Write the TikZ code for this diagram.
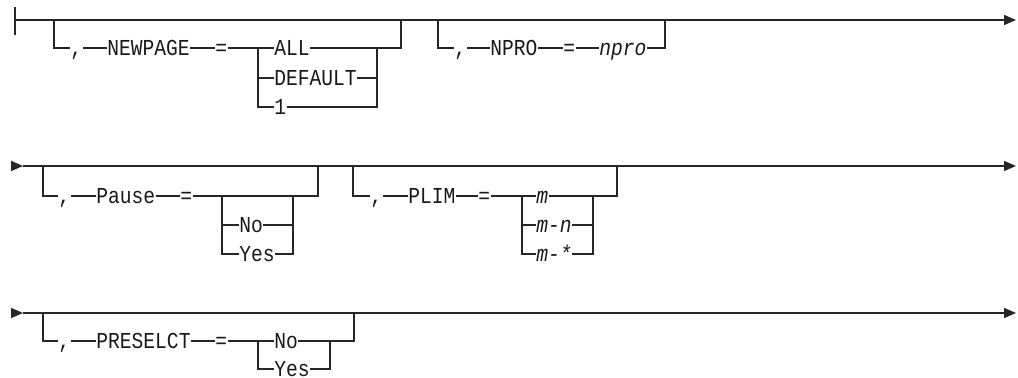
\documentclass[tikz,border=0pt]{standalone}
\usepackage{fontspec}
\newfontfamily\railfont{Liberation Mono}[FakeStretch=0.86]
\usetikzlibrary{arrows.meta}

\begin{document}
\begin{tikzpicture}[x=0.5pt, y=-0.5pt,
  rail/.style={line width=0.7pt, draw=black!85},
  flow/.style={rail, -{Triangle[length=6pt, width=5pt]}},
  token/.style={anchor=west, inner sep=0pt, text height=7.5pt, text depth=0pt,
    font=\railfont\fontsize{11.4}{13}\selectfont, text=black!90},
  var/.style={token, font=\railfont\itshape\fontsize{11.4}{13}\selectfont}]
\useasboundingbox (0,0) rectangle (1018,378);
\coordinate (r1top) at (15,7);
\coordinate (r1bot) at (15,35);
\coordinate (r1a) at (15,20);
\coordinate (r1b) at (1016,20);
\coordinate (g1l) at (54,20);
\coordinate (g1r) at (401,20);
\coordinate (c1l) at (258,48);
\coordinate (c1r) at (377,48);
\coordinate (g2l) at (438,20);
\coordinate (g2r) at (665,20);
\node[token] (nwcomma) at (70,48) {,};
\node[token] (newpage) at (107,48) {NEWPAGE};
\node[token] (nweq) at (215,48) {=};
\node[token] (nwall) at (274,48) {ALL};
\node[token] (nwdef) at (274,78) {DEFAULT};
\node[token] (nwone) at (274,107) {1};
\node[token] (npcomma) at (454,48) {,};
\node[token] (nprokey) at (490,48) {NPRO};
\node[token] (npeq) at (563,48) {=};
\node[var] (npro) at (599,48) {npro};
\draw[rail] (r1top) -- (r1bot);
\draw[flow] (r1a) -- (r1b);
\draw[rail] (g1l) |- (nwcomma.west);
\draw[rail] (nwcomma.east) -- (newpage.west);
\draw[rail] (newpage.east) -- (nweq.west);
\draw[rail] (nweq.east) -- (nwall.west);
\draw[rail] (c1l) |- (nwdef.west);
\draw[rail] (c1l) |- (nwone.west);
\draw[rail] (nwall.east) -| (g1r);
\draw[rail] (nwdef.east) -| (c1r);
\draw[rail] (nwone.east) -| (c1r);
\draw[rail] (g2l) |- (npcomma.west);
\draw[rail] (npcomma.east) -- (nprokey.west);
\draw[rail] (nprokey.east) -- (npeq.west);
\draw[rail] (npeq.east) -- (npro.west);
\draw[rail] (npro.east) -| (g2r);
\coordinate (r2a) at (12,166);
\coordinate (r2b) at (23,166);
\coordinate (r2c) at (1016,166);
\coordinate (g3l) at (43,166);
\coordinate (g3r) at (318,166);
\coordinate (c3l) at (222,196);
\coordinate (c3r) at (293,196);
\coordinate (g4l) at (353,166);
\coordinate (g4r) at (617,166);
\coordinate (c4l) at (522,196);
\coordinate (c4r) at (593,196);
\node[token] (pacomma) at (58,196) {,};
\node[token] (pause) at (96,196) {Pause};
\node[token] (paeq) at (180,196) {=};
\node[token] (pano) at (239,225) {No};
\node[token] (payes) at (239,254) {Yes};
\node[token] (plcomma) at (370,196) {,};
\node[token] (plim) at (408,196) {PLIM};
\node[token] (pleq) at (478,196) {=};
\node[var] (plm) at (536,196) {m};
\node[var] (plmn) at (536,225) {m-n};
\node[var] (plmall) at (536,254) {m-*};
\draw[flow] (r2a) -- (r2b);
\draw[flow] (r2b) -- (r2c);
\draw[rail] (g3l) |- (pacomma.west);
\draw[rail] (pacomma.east) -- (pause.west);
\draw[rail] (pause.east) -- (paeq.west);
\draw[rail] (paeq.east) -| (g3r);
\draw[rail] (c3l) |- (pano.west);
\draw[rail] (c3l) |- (payes.west);
\draw[rail] (pano.east) -| (c3r);
\draw[rail] (payes.east) -| (c3r);
\draw[rail] (g4l) |- (plcomma.west);
\draw[rail] (plcomma.east) -- (plim.west);
\draw[rail] (plim.east) -- (pleq.west);
\draw[rail] (pleq.east) -- (plm.west);
\draw[rail] (plm.east) -| (g4r);
\draw[rail] (c4l) |- (plmn.west);
\draw[rail] (c4l) |- (plmall.west);
\draw[rail] (plmn.east) -| (c4r);
\draw[rail] (plmall.east) -| (c4r);
\coordinate (r3a) at (12,313);
\coordinate (r3b) at (23,313);
\coordinate (r3c) at (1016,313);
\coordinate (g5l) at (43,313);
\coordinate (g5r) at (354,313);
\coordinate (c5l) at (258,341);
\coordinate (c5r) at (330,341);
\node[token] (pscomma) at (58,341) {,};
\node[token] (preselct) at (96,341) {PRESELCT};
\node[token] (pseq) at (215,341) {=};
\node[token] (psno) at (274,341) {No};
\node[token] (psyes) at (274,369) {Yes};
\draw[flow] (r3a) -- (r3b);
\draw[flow] (r3b) -- (r3c);
\draw[rail] (g5l) |- (pscomma.west);
\draw[rail] (pscomma.east) -- (preselct.west);
\draw[rail] (preselct.east) -- (pseq.west);
\draw[rail] (pseq.east) -- (psno.west);
\draw[rail] (psno.east) -| (g5r);
\draw[rail] (c5l) |- (psyes.west);
\draw[rail] (psyes.east) -| (c5r);
\end{tikzpicture}
\end{document}
